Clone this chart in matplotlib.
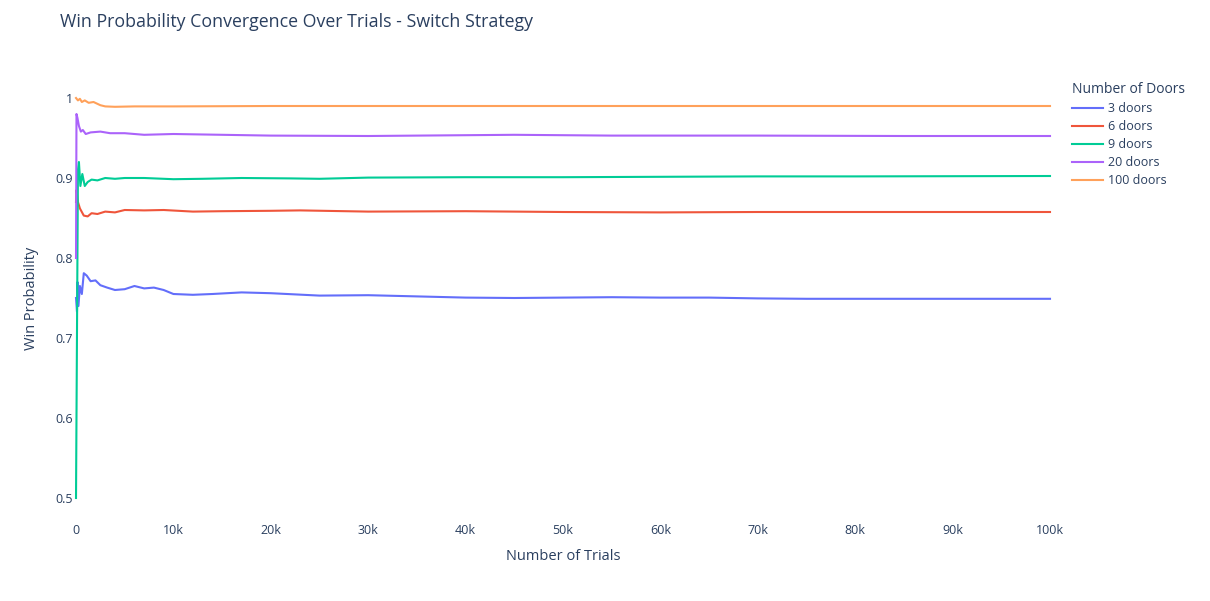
import matplotlib
matplotlib.use("Agg")
import matplotlib.pyplot as plt
from matplotlib.ticker import FuncFormatter

plt.rcParams["font.family"] = ["Open Sans", "DejaVu Sans"]

TEXT_COLOR = "#2a3f5f"

# checkpoints (trial number) and cumulative win rates
trials_3 = [1, 100, 150, 250, 400, 600, 800, 1100, 1500, 2000, 2500, 3200, 4000, 5000,
            6000, 7000, 8000, 9000, 10000, 12000, 14000, 17000, 20000, 25000, 30000,
            35000, 40000, 45000, 50000, 55000, 60000, 65000, 70000, 75000, 80000, 100000]
win_3 = [0.750, 0.733, 0.770, 0.740, 0.765, 0.755, 0.781, 0.778, 0.771, 0.772, 0.766, 0.763,
         0.760, 0.761, 0.765, 0.762, 0.763, 0.760, 0.755, 0.754, 0.755, 0.757, 0.756, 0.753,
         0.7535, 0.752, 0.7505, 0.750, 0.7505, 0.751, 0.7505, 0.7505, 0.7495, 0.749, 0.749, 0.749]

trials_6 = [1, 50, 200, 400, 800, 1200, 1600, 2200, 3000, 4000, 5000, 7000, 9000, 12000,
            15000, 20000, 23000, 30000, 40000, 50000, 60000, 70000, 80000, 100000]
win_6 = [0.870, 0.885, 0.870, 0.862, 0.853, 0.852, 0.856, 0.855, 0.858, 0.857, 0.860, 0.8595,
         0.860, 0.858, 0.8585, 0.859, 0.8595, 0.858, 0.8585, 0.8575, 0.857, 0.8575, 0.8575, 0.8575]

trials_9 = [1, 200, 300, 450, 650, 900, 1200, 1600, 2200, 3000, 4000, 5000, 7000, 10000,
            13000, 17000, 22000, 25000, 30000, 40000, 50000, 60000, 70000, 80000, 100000]
win_9 = [0.500, 0.910, 0.920, 0.890, 0.905, 0.890, 0.895, 0.898, 0.897, 0.900, 0.899, 0.900,
         0.900, 0.8985, 0.899, 0.900, 0.8995, 0.899, 0.9005, 0.901, 0.901, 0.9015, 0.902,
         0.902, 0.9025]

trials_20 = [1, 50, 150, 300, 500, 700, 1000, 1500, 2500, 3500, 5000, 7000, 10000, 15000,
             20000, 30000, 40000, 45000, 55000, 70000, 85000, 100000]
win_20 = [0.800, 0.980, 0.975, 0.965, 0.958, 0.960, 0.955, 0.957, 0.958, 0.956, 0.956, 0.954,
          0.955, 0.954, 0.953, 0.9525, 0.9535, 0.954, 0.953, 0.953, 0.9525, 0.9525]

trials_100 = [1, 200, 400, 600, 900, 1300, 1800, 2500, 3000, 4000, 6000, 10000, 20000,
              40000, 100000]
win_100 = [1.000, 0.997, 0.999, 0.995, 0.997, 0.994, 0.995, 0.991, 0.9895, 0.989, 0.9895,
           0.9895, 0.990, 0.990, 0.990]

series = [
    ("3 doors", trials_3, win_3, "#636EFA"),
    ("6 doors", trials_6, win_6, "#EF553B"),
    ("9 doors", trials_9, win_9, "#00CC96"),
    ("20 doors", trials_20, win_20, "#AB63FA"),
    ("100 doors", trials_100, win_100, "#FFA15A"),
]

x_ticks = [0, 10000, 20000, 30000, 40000, 50000, 60000, 70000, 80000, 90000, 100000]
y_ticks = [0.5, 0.6, 0.7, 0.8, 0.9, 1.0]


def fmt_k(v, _pos):
    return "0" if v == 0 else f"{int(v / 1000)}k"


def fmt_y(v, _pos):
    return f"{v:g}"


fig = plt.figure(figsize=(12.1, 6.01), dpi=100)
ax = fig.add_axes([76 / 1210, 103 / 601, 974 / 1210, 400 / 601])

for label, xs, ys, color in series:
    ax.plot(xs, ys, color=color, linewidth=1.5, label=label, clip_on=False)

ax.set_xlim(0, 100000)
ax.set_ylim(0.5, 1.0)
ax.set_xticks(x_ticks)
ax.set_yticks(y_ticks)
ax.xaxis.set_major_formatter(FuncFormatter(fmt_k))
ax.yaxis.set_major_formatter(FuncFormatter(fmt_y))
ax.tick_params(axis="x", length=0, pad=19, labelsize=9, colors=TEXT_COLOR)
ax.tick_params(axis="y", length=0, pad=2, labelsize=9, colors=TEXT_COLOR)
for spine in ax.spines.values():
    spine.set_visible(False)

ax.set_xlabel("Number of Trials", fontsize=10.5, color=TEXT_COLOR, labelpad=8)
ax.set_ylabel("Win Probability", fontsize=10.5, color=TEXT_COLOR, labelpad=12)

fig.text(60 / 1210, 1 - 22 / 601, "Win Probability Convergence Over Trials - Switch Strategy",
         fontsize=12.75, color=TEXT_COLOR, va="center", ha="left")

leg = ax.legend(title="Number of Doors", loc="upper left",
                bbox_to_anchor=(1067 / 1210, 1 - 77 / 601), bbox_transform=fig.transFigure,
                frameon=False, fontsize=9, title_fontsize=10, handlelength=2.5,
                handletextpad=0.4, labelspacing=0.4, borderaxespad=0)
leg._legend_box.align = "left"
leg.get_title().set_color(TEXT_COLOR)
for t in leg.get_texts():
    t.set_color(TEXT_COLOR)

fig.savefig("out.png", dpi=100)
